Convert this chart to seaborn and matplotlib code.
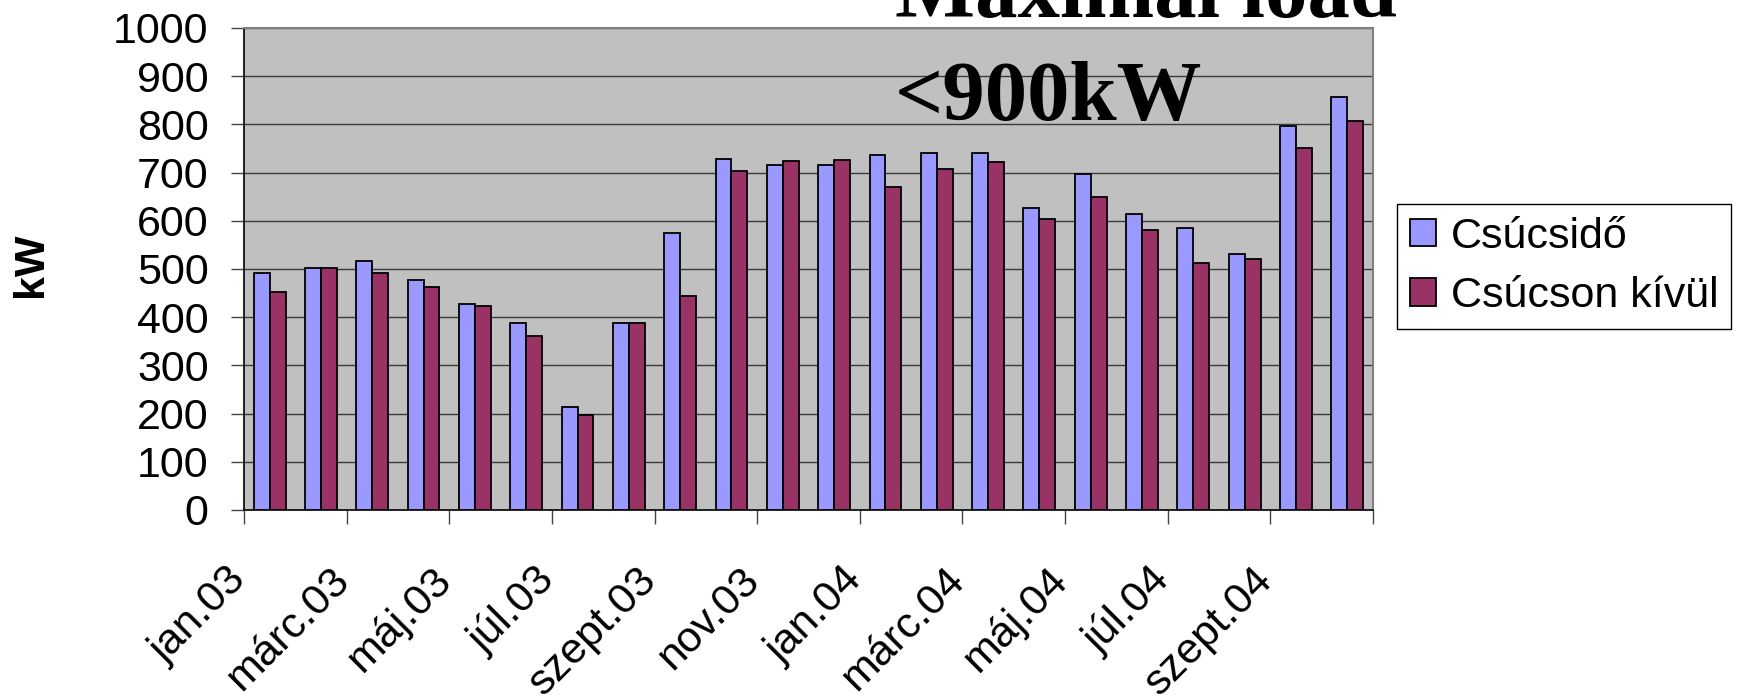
import matplotlib
matplotlib.use("Agg")
import matplotlib.pyplot as plt
import seaborn as sns
import pandas as pd
import numpy as np

# ── Data ──────────────────────────────────────────────────────────────────────
MONTHS = [
    "jan.03", "febr.03", "márc.03", "ápr.03", "máj.03", "jún.03",
    "júl.03", "aug.03", "szept.03", "okt.03", "nov.03", "dec.03",
    "jan.04", "febr.04", "márc.04", "ápr.04", "máj.04", "jún.04",
    "júl.04", "aug.04", "szept.04", "okt.04",
]
PEAK = [491, 502, 516, 478, 428, 388, 214, 388, 574, 728, 715,
        715, 737, 741, 741, 627, 698, 614, 585, 531, 797, 857]
OFFPEAK = [453, 501, 491, 463, 423, 361, 198, 388, 443, 704, 723,
           727, 671, 708, 722, 604, 650, 581, 512, 521, 752, 808]
SERIES = ["Csúcsidő", "Csúcson kívül"]
Y_TICKS = list(range(0, 1001, 100))

BLUE   = "#9999FF"
MAROON = "#993366"
BG     = "#C0C0C0"

df = pd.DataFrame({
    "month": MONTHS * 2,
    "kW": PEAK + OFFPEAK,
    "series": [SERIES[0]] * len(MONTHS) + [SERIES[1]] * len(MONTHS),
})

sns.set_style("white")
plt.rcParams["font.family"] = ["Liberation Sans", "DejaVu Sans"]
plt.rcParams["text.color"] = "black"
plt.rcParams["xtick.color"] = "black"
plt.rcParams["ytick.color"] = "black"
plt.rcParams["xtick.labelcolor"] = "black"
plt.rcParams["ytick.labelcolor"] = "black"

fig = plt.figure(figsize=(17.39, 6.99), dpi=100)
ax = fig.add_axes([0.1403, 0.2704, 0.6492, 0.6896])
ax.set_facecolor(BG)

sns.barplot(data=df, x="month", y="kW", hue="series", order=MONTHS,
            hue_order=SERIES, palette=[BLUE, MAROON], width=0.62, gap=0,
            edgecolor="black", linewidth=1.3, saturation=1, ax=ax)

# ── Axes styling ──────────────────────────────────────────────────────────────
ax.set_xlim(-0.5, len(MONTHS) - 0.5)
ax.set_ylim(0, 1000)
ax.set_yticks(Y_TICKS)
ax.yaxis.grid(True, color="#3a3a3a", linewidth=1.0)
ax.set_axisbelow(True)
ax.tick_params(axis="y", labelsize=31, pad=16, length=9.5, width=1,
               direction="out", left=True, color="#444")

# tick marks between every two months, labels under the months themselves
ax.set_xticks(np.arange(-0.5, len(MONTHS), 2))
ax.set_xticklabels([])
ax.tick_params(axis="x", which="major", length=10, width=1,
               direction="out", bottom=True, color="#444")
ax.set_xticks(np.arange(0, len(MONTHS), 2) - 0.3, minor=True)
ax.set_xticklabels(MONTHS[::2], minor=True, rotation=45, ha="right",
                   fontsize=31)
ax.tick_params(axis="x", which="minor", length=0, pad=36)

ax.set_xlabel("")
ax.set_ylabel("")
for side in ["top", "right"]:
    ax.spines[side].set_color("#808080")
    ax.spines[side].set_linewidth(1.5)
for side in ["left", "bottom"]:
    ax.spines[side].set_color("#111")
    ax.spines[side].set_linewidth(1.3)

fig.text(31 / 1739, 1 - 265 / 699, "kW", rotation=90, ha="center",
         va="center", fontsize=31, fontweight="bold")

# ── Legend ────────────────────────────────────────────────────────────────────
handles, labels = ax.get_legend_handles_labels()
leg = ax.legend(handles, labels, loc="upper left",
                bbox_to_anchor=(1397 / 1739, 1 - 204 / 699),
                bbox_transform=fig.transFigure, fontsize=31,
                frameon=True, fancybox=False, edgecolor="black",
                framealpha=1, handlelength=0.6, handleheight=0.6,
                handletextpad=0.35, borderpad=0.3, labelspacing=0.45,
                borderaxespad=0)
leg.get_frame().set_linewidth(1.0)

# ── Title annotation ──────────────────────────────────────────────────────────
title_kw = dict(family=["Liberation Serif", "DejaVu Serif"],
                fontweight="bold", fontsize=61, ha="left", va="baseline",
                color="black")
fig.text(895 / 1739, 1 - 17 / 699, "Maximal load", **title_kw)
fig.text(895 / 1739, 1 - 120 / 699, "<900kW", **title_kw)

fig.savefig("out.png", dpi=100)
